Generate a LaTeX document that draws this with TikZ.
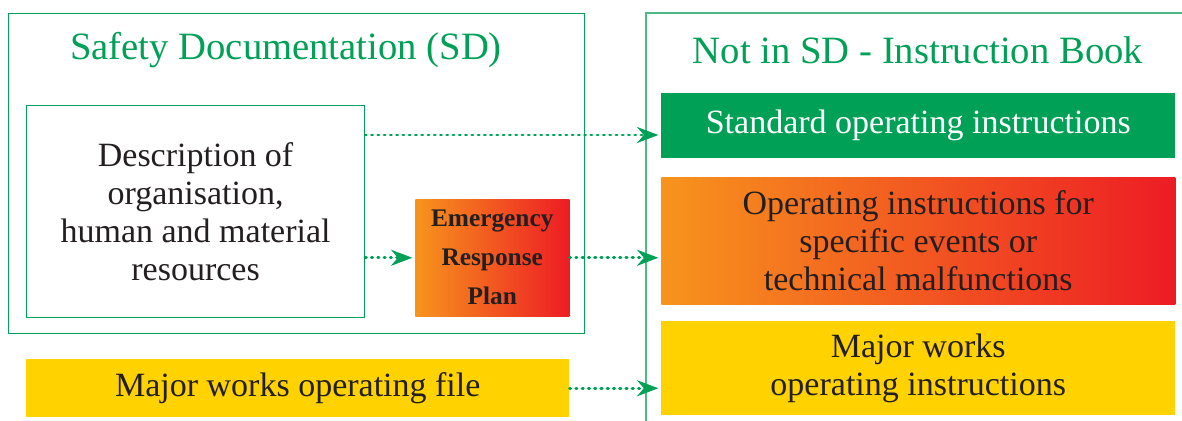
\documentclass[tikz,border=0pt]{standalone}
\usepackage{fontspec}
\setmainfont{LiberationSerif}[Extension=.ttf, UprightFont=*-Regular, BoldFont=*-Bold, ItalicFont=*-Italic, BoldItalicFont=*-BoldItalic]
\usetikzlibrary{arrows.meta}
\definecolor{sdgreen}{HTML}{00A057}
\definecolor{sdgreenlight}{HTML}{4DB983}
\definecolor{sdorange}{HTML}{F7941D}
\definecolor{sdred}{HTML}{ED1C24}
\definecolor{sdyellow}{HTML}{FFD200}
\definecolor{sdtext}{HTML}{231F20}
\tikzset{
  panel/.style={draw=sdgreen, line width=1.1pt, anchor=north west, inner sep=0pt},
  whitebox/.style={draw=sdgreen, line width=0.9pt, fill=white, anchor=north west, inner sep=0pt},
  gradbox/.style={left color=sdorange, right color=sdred, anchor=north west, inner sep=0pt},
  greenbox/.style={fill=sdgreen, anchor=north west, inner sep=0pt},
  yellowbox/.style={fill=sdyellow, anchor=north west, inner sep=0pt},
  title/.style={text=sdgreen, font=\fontsize{29}{33}\selectfont},
  body/.style={text=sdtext, align=center, font=\fontsize{25.5}{28.7}\selectfont},
  erptext/.style={text=sdtext, align=center, font=\bfseries\fontsize{19}{29.25}\selectfont},
  dotarrow/.style={draw=sdgreen, line width=2.2pt, line cap=round, dash pattern=on 0.9pt off 3.8pt,
    -{Stealth[length=16pt,width=12pt]}, shorten >=2pt}
}
\begin{document}
\begin{tikzpicture}[x=0.75pt,y=-0.75pt]
\useasboundingbox (0,0) rectangle (1182,421);
% left panel
\node[panel, minimum width=432pt, minimum height=240pt] (leftpanel) at (8,13) {};
\node[title] (lefttitle) at (286,50) {Safety Documentation (SD)};
% right panel (open at right and bottom)
\coordinate (rp1) at (646,421);
\coordinate (rp2) at (646,13);
\coordinate (rp3) at (1182,13);
\draw[sdgreenlight, line width=1.1pt] (rp1) -- (rp2) -- (rp3);
\node[title] (righttitle) at (918,50) {Not in SD - Instruction Book};
% boxes
\node[whitebox, minimum width=253.5pt, minimum height=159pt] (desc) at (26,105) {};
\node[body] at (desc.center) {Description of\\organisation,\\human and material\\resources};
\node[gradbox, minimum width=115.5pt, minimum height=87.75pt] (erp) at (415,199) {};
\node[erptext] at ([yshift=0pt]erp.center) {Emergency\\Response\\Plan};
\node[yellowbox, minimum width=407.25pt, minimum height=43.5pt] (mwf) at (26,359) {};
\node[body] at (mwf.center) {Major works operating file};
\node[greenbox, minimum width=385.5pt, minimum height=48.75pt] (std) at (661,93) {};
\node[body, text=white] at (std.center) {Standard operating instructions};
\node[gradbox, minimum width=385.5pt, minimum height=95.25pt] (ops) at (661,177) {};
\node[body] at (ops.center) {Operating instructions for\\specific events or\\technical malfunctions};
\node[yellowbox, minimum width=385.5pt, minimum height=70.5pt] (mwi) at (661,321) {};
\node[body] at (mwi.center) {Major works\\operating instructions};
% arrows
\coordinate (row1) at (0,135);
\draw[dotarrow] (desc.east |- row1) -- (std.west |- row1);
\draw[dotarrow] (desc.east |- erp.west) -- (erp.west);
\draw[dotarrow] (erp.east) -- (ops.west |- erp.east);
\draw[dotarrow] (mwf.east) -- (mwi.west |- mwf.east);
\end{tikzpicture}
\end{document}
